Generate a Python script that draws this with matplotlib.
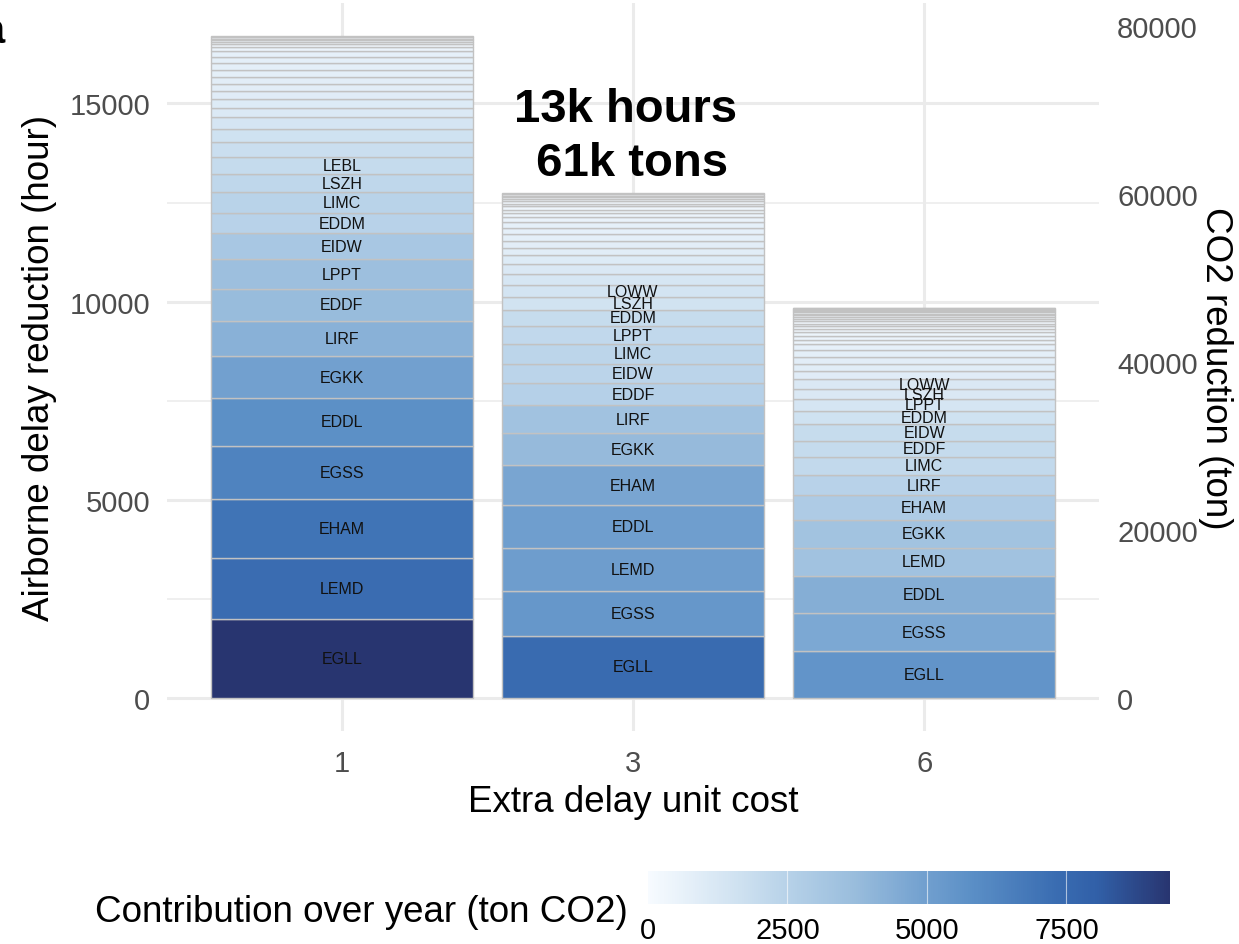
import matplotlib
matplotlib.use("Agg")
import matplotlib.pyplot as plt
from matplotlib.colors import LinearSegmentedColormap, Normalize
from matplotlib.cm import ScalarMappable
import numpy as np

plt.rcParams['font.family'] = ['Liberation Sans', 'DejaVu Sans']

# airborne delay reduction per airport (hours), largest at the bottom of each bar
cost_levels = ["1", "3", "6"]

airports_1 = ["EGLL", "LEMD", "EHAM", "EGSS", "EDDL", "EGKK", "LIRF", "EDDF",
              "LPPT", "EIDW", "EDDM", "LIMC", "LSZH", "LEBL"]
hours_1 = [1982, 1551, 1483, 1340, 1217, 1046, 897, 797, 754, 654, 523, 513, 470, 420]
other_1 = [385, 334, 287, 234, 219, 201, 184, 183, 168, 167, 166, 151, 101,
           65, 60, 48, 38, 28, 20, 13]

airports_3 = ["EGLL", "EGSS", "LEMD", "EDDL", "EHAM", "EGKK", "LIRF", "EDDF",
              "EIDW", "LIMC", "LPPT", "EDDM", "LSZH", "LOWW"]
hours_3 = [1566, 1139, 1081, 1073, 1006, 812, 714, 543, 503, 488, 453, 417, 319, 302]
other_3 = [284, 251, 219, 186, 184, 166, 151, 150, 118, 106, 91, 80, 70, 63,
           55, 45, 38, 30, 23, 13]

airports_6 = ["EGLL", "EGSS", "EDDL", "LEMD", "EGKK", "EHAM", "LIRF", "LIMC",
              "EDDF", "EIDW", "EDDM", "LPPT", "LSZH", "LOWW"]
hours_6 = [1172, 980, 923, 716, 709, 611, 520, 442, 421, 418, 334, 294, 252, 251]
other_6 = [194, 189, 184, 168, 143, 108, 101, 96, 83, 70, 65, 60, 55, 50, 45,
           40, 35, 30, 25, 20, 15, 13, 10]

ton_per_hour = 4.72
annot_text = "13k hours\n 61k tons"

bars = [(airports_1, hours_1, other_1),
        (airports_3, hours_3, other_3),
        (airports_6, hours_6, other_6)]

cmap = LinearSegmentedColormap.from_list("contrib", [
    (0.00, "#f7fbff"), (0.20, "#c8ddee"), (0.27, "#b6d1e8"), (0.40, "#98bcdc"),
    (0.53, "#72a0cf"), (0.62, "#5b8fc6"), (0.78, "#3a6db2"), (0.86, "#3160a8"),
    (1.00, "#283570")])

all_tons = [h * ton_per_hour for b in bars for h in b[1] + b[2]]
norm = Normalize(vmin=0, vmax=max(all_tons))

fig = plt.figure(figsize=(12.39, 9.45), dpi=100)
W, H = 1239, 945
ax = fig.add_axes([167 / W, 1 - 732 / H, (1099 - 167) / W, (732 - 4) / H])

totals = [sum(b[1]) + sum(b[2]) for b in bars]
top = max(totals)
ax.set_xlim(-0.6, 2.6)
ax.set_ylim(-0.05 * top, 1.05 * top)

for i, (names, hrs, rest) in enumerate(bars):
    vals = hrs + rest
    labels = names + [""] * len(rest)
    bottom = 0
    for v, lab in zip(vals, labels):
        ax.bar(i, v, bottom=bottom, width=0.9, color=cmap(norm(v * ton_per_hour)),
               edgecolor="#c2c2c2", linewidth=1.0, zorder=3)
        if lab:
            ax.text(i, bottom + v / 2, lab, ha="center", va="center",
                    fontsize=11.5, color="#111111", zorder=4)
        bottom += v

ax.text(0.975, 14170, annot_text, ha="center", va="center", fontsize=34,
        fontweight="bold", multialignment="center", linespacing=1.3, zorder=5)

# grid like theme_minimal
ax.set_yticks([0, 5000, 10000, 15000])
ax.set_yticks([2500, 7500, 12500], minor=True)
ax.set_xticks([0, 1, 2])
ax.set_xticklabels(cost_levels)
ax.grid(which="major", color="#ebebeb", linewidth=2.2, zorder=0)
ax.grid(which="minor", axis="y", color="#ebebeb", linewidth=1.1, zorder=0)
for s in ax.spines.values():
    s.set_visible(False)
ax.tick_params(which="both", length=0)
ax.tick_params(axis="y", labelsize=21, labelcolor="#4d4d4d", pad=12)
ax.tick_params(axis="x", labelsize=21, labelcolor="#4d4d4d", pad=13)
ax.set_xlabel("Extra delay unit cost", fontsize=26.5, labelpad=5)
ax.set_ylabel("Airborne delay reduction (hour)", fontsize=26.5, labelpad=9)

ax2 = ax.secondary_yaxis("right", functions=(lambda h: h * ton_per_hour,
                                             lambda t: t / ton_per_hour))
ax2.set_yticks([0, 20000, 40000, 60000, 80000])
ax2.tick_params(length=0, labelsize=21, labelcolor="#4d4d4d", pad=13)
for s in ax2.spines.values():
    s.set_visible(False)
ax2.set_ylabel("CO2 reduction (ton)", fontsize=26.5, rotation=-90, labelpad=25,
               va="top")

# colourbar legend
cax = fig.add_axes([648 / W, 1 - 905 / H, 522 / W, 33 / H])
sm = ScalarMappable(norm=norm, cmap=cmap)
cb = fig.colorbar(sm, cax=cax, orientation="horizontal")
cb.outline.set_visible(False)
cb.set_ticks([0, 2500, 5000, 7500])
cax.tick_params(length=0, labelsize=21, pad=9)
for t in [2500, 5000, 7500]:
    cax.axvline(t, color="white", linewidth=0.8, alpha=0.6)
fig.text(628 / W, 1 - 913 / H, "Contribution over year (ton CO2)", ha="right",
         va="center", fontsize=26.5)

# panel tag, clipped at the left edge like the original
fig.text(5 / W, 1 - 32 / H, "a", ha="right", va="center", fontsize=30,
         fontweight="bold")

fig.savefig("out.png", dpi=100)
